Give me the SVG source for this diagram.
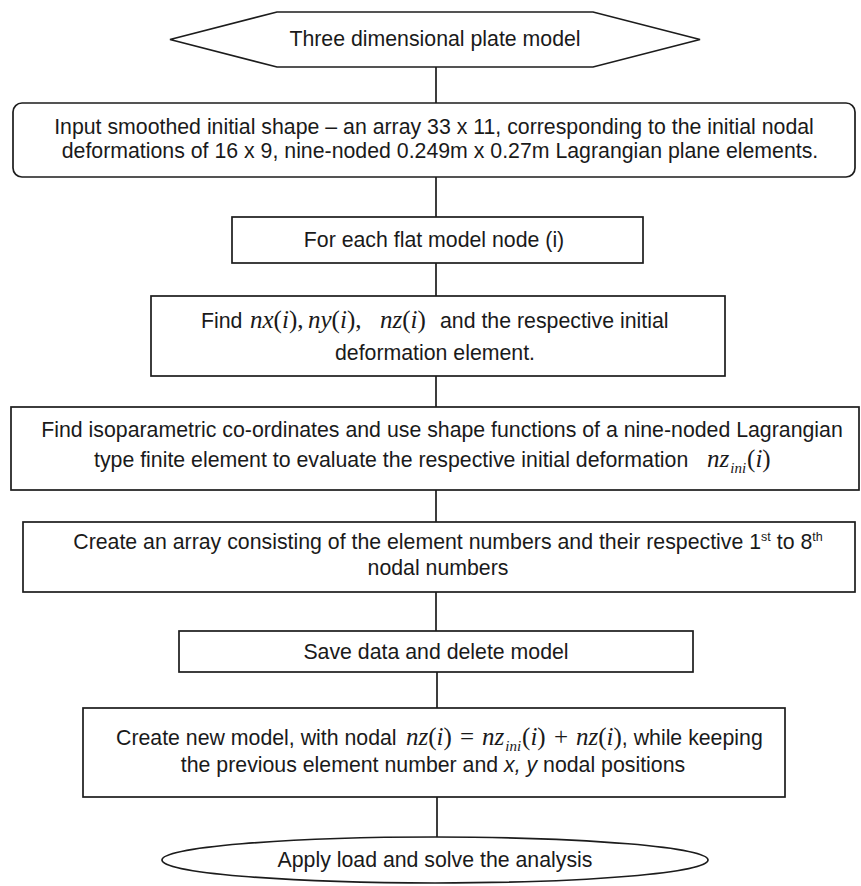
<svg xmlns="http://www.w3.org/2000/svg" width="861" height="886" viewBox="0 0 861 886">
<style>
.shape{fill:#fff;stroke:#1c1c1c;stroke-width:1.7}
.conn line{stroke:#1c1c1c;stroke-width:1.7}
.t{font-family:"Liberation Sans",Arial,sans-serif;font-size:21.3px;fill:#1a1a1a}
.c{text-anchor:middle}
.mi{font-family:"Liberation Serif","Times New Roman",serif;font-size:25px;font-style:italic}
.mr{font-family:"Liberation Serif","Times New Roman",serif;font-size:25px;font-style:normal}
.sub{font-family:"Liberation Serif","Times New Roman",serif;font-size:15px;font-style:italic}
.sup{font-size:12.5px}
.it{font-style:italic}
</style>
<rect width="861" height="886" fill="#fff"/>
<g class="conn">
<line x1="436" y1="67" x2="436" y2="103"/>
<line x1="436" y1="177" x2="436" y2="217"/>
<line x1="436" y1="263" x2="436" y2="296"/>
<line x1="436" y1="376" x2="436" y2="407"/>
<line x1="436" y1="490" x2="436" y2="522"/>
<line x1="436" y1="592" x2="436" y2="631"/>
<line x1="437" y1="672" x2="437" y2="708"/>
<line x1="437" y1="797" x2="437" y2="838"/>
</g>
<g id="start">
<polygon class="shape" points="170,39.5 277,12 593,12 700,39.5 593,67 277,67"/>
<text class="t c" x="435" y="46">Three dimensional plate model</text>
</g>
<g id="input">
<rect class="shape" x="13" y="103" width="842" height="74" rx="9"/>
<text class="t c" x="434" y="134">Input smoothed initial shape – an array 33 x 11, corresponding to the initial nodal</text>
<text class="t c" x="440" y="158">deformations of 16 x 9, nine-noded 0.249m x 0.27m  Lagrangian plane elements.</text>
</g>
<g id="foreach">
<rect class="shape" x="232" y="217" width="411" height="46"/>
<text class="t c" x="434" y="247">For each flat model node (i)</text>
</g>
<g id="find">
<rect class="shape" x="151" y="296" width="574" height="80"/>
<text class="t" y="328"><tspan x="201">Find</tspan><tspan x="250" class="mi">nx</tspan><tspan class="mr">(</tspan><tspan class="mi">i</tspan><tspan class="mr">),</tspan><tspan x="308" class="mi">ny</tspan><tspan class="mr">(</tspan><tspan class="mi">i</tspan><tspan class="mr">),</tspan><tspan x="380" class="mi">nz</tspan><tspan class="mr">(</tspan><tspan class="mi">i</tspan><tspan class="mr">)</tspan><tspan x="440">and the respective initial</tspan></text>
<text class="t c" x="435" y="360">deformation element.</text>
</g>
<g id="iso">
<rect class="shape" x="11" y="407" width="848" height="83"/>
<text class="t c" x="442" y="437">Find isoparametric co-ordinates and use shape functions of a nine-noded Lagrangian</text>
<text class="t" y="467"><tspan x="94">type finite element to evaluate the respective initial deformation</tspan><tspan x="707" class="mi">nz</tspan><tspan class="sub" dx="1" dy="6">ini</tspan><tspan class="mr" dx="1" dy="-6">(</tspan><tspan class="mi">i</tspan><tspan class="mr">)</tspan></text>
</g>
<g id="array">
<rect class="shape" x="23" y="522" width="832" height="70"/>
<text class="t c" x="448" y="549">Create an array consisting of the element numbers and their respective 1<tspan class="sup" dy="-8">st</tspan><tspan dy="8"> to 8</tspan><tspan class="sup" dy="-8">th</tspan></text>
<text class="t c" x="438" y="575">nodal numbers</text>
</g>
<g id="save">
<rect class="shape" x="179" y="631" width="514" height="41"/>
<text class="t c" x="436" y="659">Save data and delete model</text>
</g>
<g id="create">
<rect class="shape" x="83" y="708" width="702" height="89"/>
<text class="t" y="745"><tspan x="116">Create new model, with nodal</tspan><tspan x="406" class="mi">nz</tspan><tspan class="mr">(</tspan><tspan class="mi">i</tspan><tspan class="mr">)</tspan><tspan x="460" class="mr">=</tspan><tspan x="482" class="mi">nz</tspan><tspan class="sub" dx="1" dy="6">ini</tspan><tspan class="mr" dx="1" dy="-6">(</tspan><tspan class="mi">i</tspan><tspan class="mr">)</tspan><tspan x="554" class="mr">+</tspan><tspan x="576" class="mi">nz</tspan><tspan class="mr">(</tspan><tspan class="mi">i</tspan><tspan class="mr">)</tspan><tspan>, while keeping</tspan></text>
<text class="t c" x="433" y="772">the previous element number and <tspan class="it">x, y</tspan> nodal positions</text>
</g>
<g id="end">
<ellipse class="shape" cx="435" cy="860" rx="273" ry="23"/>
<text class="t c" x="435" y="867">Apply load and solve the analysis</text>
</g>
</svg>
